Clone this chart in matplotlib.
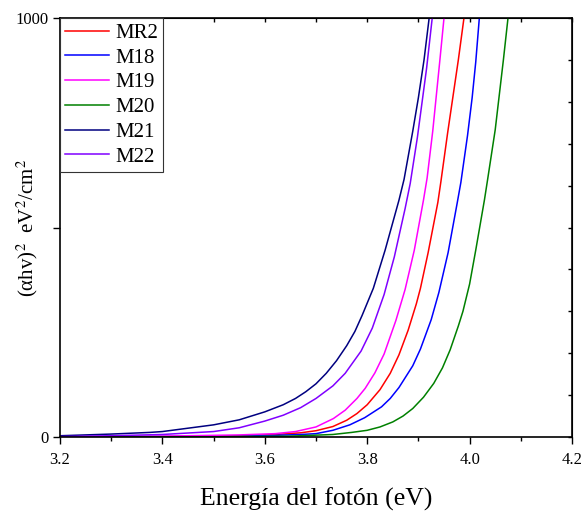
import matplotlib
matplotlib.use('Agg')
import matplotlib.pyplot as plt
from matplotlib.ticker import MultipleLocator, FixedLocator, NullFormatter

plt.rcParams['font.family'] = ['Liberation Serif', 'DejaVu Serif']
plt.rcParams['mathtext.fontset'] = 'stix'

# datos: energia (eV) y (ahv)^2
e_mr2 = [3.20, 3.40, 3.55, 3.62, 3.67, 3.70, 3.733, 3.76, 3.78, 3.80, 3.825, 3.845, 3.862, 3.880, 3.896, 3.904, 3.919, 3.938, 3.944, 3.957, 3.978, 3.989]
a_mr2 = [0, 1, 3, 6, 10, 15, 25, 40, 56, 77, 113, 152, 196, 255, 318, 355, 440, 560, 610, 725, 900, 1000]

e_m18 = [3.20, 3.40, 3.55, 3.62, 3.67, 3.70, 3.733, 3.766, 3.795, 3.828, 3.845, 3.862, 3.889, 3.904, 3.925, 3.940, 3.958, 3.976, 3.983, 3.996, 4.005, 4.012, 4.019]
a_m18 = [0, 1, 2, 4, 6, 8, 16, 29, 46, 72, 92, 118, 170, 210, 280, 345, 440, 560, 608, 720, 810, 895, 1000]

e_m19 = [3.20, 3.40, 3.55, 3.62, 3.66, 3.70, 3.734, 3.757, 3.78, 3.796, 3.815, 3.833, 3.856, 3.874, 3.892, 3.910, 3.917, 3.928, 3.942, 3.950]
a_m19 = [1, 2, 5, 8, 13, 24, 44, 64, 92, 116, 153, 198, 278, 352, 446, 566, 618, 730, 900, 1000]

e_m20 = [3.20, 3.50, 3.65, 3.733, 3.77, 3.80, 3.825, 3.850, 3.870, 3.889, 3.910, 3.930, 3.947, 3.962, 3.978, 3.987, 4.000, 4.012, 4.029, 4.035, 4.050, 4.066, 4.075]
a_m20 = [0, 0.5, 2, 6, 11, 16, 24, 36, 50, 68, 95, 128, 165, 208, 265, 300, 365, 446, 566, 613, 733, 900, 1000]

e_m21 = [3.20, 3.30, 3.376, 3.40, 3.50, 3.55, 3.60, 3.636, 3.66, 3.68, 3.70, 3.72, 3.74, 3.76, 3.776, 3.79, 3.812, 3.835, 3.862, 3.872, 3.889, 3.900, 3.911, 3.921]
a_m21 = [3, 7, 11, 13, 29, 41, 60, 77, 92, 108, 127, 152, 182, 218, 252, 290, 355, 446, 565, 615, 730, 810, 900, 1000]

e_m22 = [3.20, 3.30, 3.40, 3.50, 3.55, 3.60, 3.636, 3.67, 3.70, 3.733, 3.757, 3.788, 3.810, 3.833, 3.853, 3.874, 3.884, 3.898, 3.916, 3.927]
a_m22 = [1, 3, 6, 13, 22, 38, 52, 70, 92, 122, 152, 205, 260, 340, 430, 545, 605, 715, 880, 1000]

series = [
    ('MR2', e_mr2, a_mr2, '#ff0000'),
    ('M18', e_m18, a_m18, '#0000ff'),
    ('M19', e_m19, a_m19, '#ff00ff'),
    ('M20', e_m20, a_m20, '#008000'),
    ('M21', e_m21, a_m21, '#000080'),
    ('M22', e_m22, a_m22, '#8000ff'),
]

fig = plt.figure(figsize=(5.84, 5.12), dpi=100)
ax = fig.add_axes([60/584, 75/512, 512/584, 419/512])

for name, e, a, c in series:
    ax.plot(e, a, color=c, lw=1.1, label=name)

ax.set_xlim(3.2, 4.2)
ax.set_ylim(0, 1000)

ax.xaxis.set_major_locator(MultipleLocator(0.2))
ax.xaxis.set_minor_locator(MultipleLocator(0.1))
ax.xaxis.set_major_formatter(plt.FuncFormatter(lambda v, p: f'{v:.1f}'))
ax.yaxis.set_major_locator(FixedLocator([0, 500, 1000]))
ax.set_yticklabels(['0', '', '1000'])
ax.tick_params(axis='both', which='major', direction='out', length=5, width=1, labelsize=12)
ax.tick_params(axis='x', which='minor', direction='out', length=3, width=1)
ax.tick_params(axis='x', pad=6)

# ejes de arriba y derecha con marcas hacia dentro
top = ax.secondary_xaxis('top')
top.xaxis.set_major_locator(MultipleLocator(0.1))
top.xaxis.set_major_formatter(NullFormatter())
top.tick_params(direction='in', length=3, width=1)
right = ax.secondary_yaxis('right')
right.yaxis.set_major_locator(MultipleLocator(100))
right.yaxis.set_major_formatter(NullFormatter())
right.tick_params(direction='in', length=3, width=1)

for s in ax.spines.values():
    s.set_linewidth(1.2)

ax.set_xlabel('Energía del fotón (eV)', fontsize=18.5, labelpad=14)
ax.set_ylabel(r'(αhv)$^{2}$  eV$^{2}$/cm$^{2}$', fontsize=15)
ax.yaxis.set_label_coords(-20/512, 0.5)

leg = ax.legend(loc='upper left', bbox_to_anchor=(0, 1), borderaxespad=0,
                fancybox=False, edgecolor='#333333', fontsize=15,
                handlelength=2.1, labelspacing=0.25, handletextpad=0.3,
                borderpad=0.25, framealpha=1)
leg.get_frame().set_linewidth(0.8)

fig.savefig('out.png', dpi=100)
